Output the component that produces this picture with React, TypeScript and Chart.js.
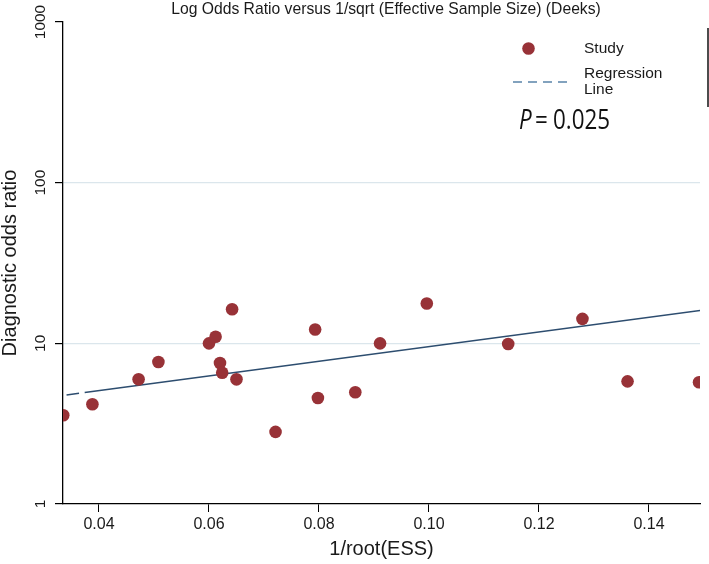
import React, { useEffect, useRef } from "react";
import { Chart, registerables } from "chart.js";
Chart.register(...registerables);

const studyX = [0.0335, 0.0388, 0.0472, 0.0508, 0.0600, 0.0612, 0.0642, 0.0620, 0.0624, 0.0650, 0.0721, 0.0793, 0.0798, 0.0866, 0.0911, 0.0996, 0.1144, 0.1279, 0.1361, 0.1491];
const studyY = [3.57, 4.18, 5.97, 7.65, 10.0, 11.0, 16.3, 7.54, 6.56, 5.97, 2.81, 12.2, 4.57, 4.96, 10.0, 17.7, 9.9, 14.2, 5.8, 5.72];
const regX = [0.0341, 0.1493];
const regY = [4.77, 16.0];
const xTicks = [0.04, 0.06, 0.08, 0.1, 0.12, 0.14];
const yTicks = [1, 10, 100, 1000];
const chartTitle = "Log Odds Ratio versus 1/sqrt (Effective Sample Size) (Deeks)";
const xTitle = "1/root(ESS)";
const yTitle = "Diagnostic odds ratio";
const legendStudy = "Study";
const legendReg = ["Regression", "Line"];
const pLabel = "P";
const pValue = "0.025";

const FONT = '"Liberation Sans", Arial, sans-serif';
const DOT = "#983237";
const LINE = "#2d4d6f";

const overlay = {
  id: "overlay",
  afterDraw(chart: any) {
    const ctx = chart.ctx as CanvasRenderingContext2D;
    const ys = chart.scales.y;
    ctx.save();
    // title
    ctx.fillStyle = "#1a1a1a";
    ctx.font = `15.7px ${FONT}`;
    ctx.textAlign = "center";
    ctx.textBaseline = "middle";
    ctx.fillText(chartTitle, 386, 10);
    // y tick labels rotated
    ctx.font = `15.5px ${FONT}`;
    for (const t of ys.ticks) {
      const py = ys.getPixelForValue(t.value);
      ctx.save();
      ctx.translate(41, py);
      ctx.rotate(-Math.PI / 2);
      ctx.textAlign = "center";
      ctx.textBaseline = "middle";
      ctx.fillText(String(t.value), 0, 0);
      ctx.restore();
    }
    // legend
    ctx.fillStyle = DOT;
    ctx.beginPath();
    ctx.arc(528.5, 48.5, 6.3, 0, Math.PI * 2);
    ctx.fill();
    ctx.strokeStyle = "#5a84a9";
    ctx.lineWidth = 1.5;
    ctx.setLineDash([9, 6]);
    ctx.beginPath();
    ctx.moveTo(513, 82);
    ctx.lineTo(571, 82);
    ctx.stroke();
    ctx.setLineDash([]);
    ctx.fillStyle = "#1a1a1a";
    ctx.font = `15.5px ${FONT}`;
    ctx.textAlign = "left";
    ctx.textBaseline = "middle";
    ctx.fillText(legendStudy, 584, 49);
    ctx.fillText(legendReg[0], 584, 74);
    ctx.fillText(legendReg[1], 584, 90);
    // right border line
    ctx.strokeStyle = "#111";
    ctx.lineWidth = 1.5;
    ctx.beginPath();
    ctx.moveTo(708, 28);
    ctx.lineTo(708, 107);
    ctx.stroke();
    // P value
    ctx.fillStyle = "#111";
    ctx.textBaseline = "alphabetic";
    const drawCond = (txt: string, x: number, font: string) => {
      ctx.save();
      ctx.translate(x, 129);
      ctx.scale(0.8, 1);
      ctx.font = font;
      ctx.fillText(txt, 0, 0);
      ctx.restore();
    };
    drawCond(pLabel, 519, `italic 28px "Open Sans", sans-serif`);
    drawCond("=", 535, `28px "Open Sans", sans-serif`);
    drawCond(pValue, 553, `28px "Open Sans", sans-serif`);
    ctx.restore();
  },
};

export default function App() {
  const ref = useRef<HTMLCanvasElement>(null);
  useEffect(() => {
    if (!ref.current) return;
    const chart = new Chart(ref.current, {
      type: "scatter",
      data: {
        datasets: [
          {
            type: "line",
            label: "Regression Line",
            data: regX.map((x, i) => ({ x, y: regY[i] })),
            borderColor: LINE,
            borderWidth: 1.6,
            borderDash: [12.6, 5.7, 1000],
            pointRadius: 0,
            fill: false,
            order: 2,
          } as any,
          {
            label: "Study",
            data: studyX.map((x, i) => ({ x, y: studyY[i] })),
            backgroundColor: DOT,
            borderWidth: 0,
            pointRadius: 6.3,
            order: 1,
          },
        ],
      },
      options: {
        animation: false,
        responsive: true,
        maintainAspectRatio: false,
        layout: { padding: { top: 22, right: 9, left: 0, bottom: 0 } },
        plugins: { legend: { display: false }, tooltip: { enabled: false }, title: { display: false } },
        scales: {
          x: {
            type: "linear",
            min: 0.033455,
            max: 0.149273,
            afterBuildTicks: (s: any) => {
              s.ticks = xTicks.map((v) => ({ value: v }));
            },
            afterFit: (s: any) => {
              s.height = 60;
            },
            grid: { drawOnChartArea: false, color: "#000", tickColor: "#000", tickLength: 8 },
            border: { display: true, color: "#000", width: 1.3 },
            ticks: {
              color: "#1a1a1a",
              font: { family: FONT, size: 16 },
              padding: 3,
              callback: (v: any) => Number(v).toFixed(2),
            },
            title: {
              display: true,
              text: xTitle,
              color: "#1a1a1a",
              font: { family: FONT, size: 20, lineHeight: 1.2 },
              padding: { top: 0, bottom: 3 },
            },
          },
          y: {
            type: "logarithmic",
            min: 1,
            max: 1000,
            afterBuildTicks: (s: any) => {
              s.ticks = yTicks.map((v) => ({ value: v }));
            },
            afterFit: (s: any) => {
              s.width = 63;
            },
            grid: {
              color: (c: any) => (c.tick && (c.tick.value === 10 || c.tick.value === 100) ? "#dbe6ec" : "rgba(0,0,0,0)"),
              tickColor: "#000",
              tickLength: 8,
              lineWidth: 1.2,
            },
            border: { display: true, color: "#000", width: 1.3 },
            ticks: { display: false },
            title: {
              display: true,
              text: yTitle,
              color: "#1a1a1a",
              font: { family: FONT, size: 20, lineHeight: 1 },
              padding: { top: 0, bottom: 0 },
            },
          },
        },
      },
      plugins: [overlay],
    });
    return () => chart.destroy();
  }, []);
  return (
    <div style={{ position: "fixed", left: 0, top: 0, width: 709, height: 564 }}>
      <canvas ref={ref} />
    </div>
  );
}
